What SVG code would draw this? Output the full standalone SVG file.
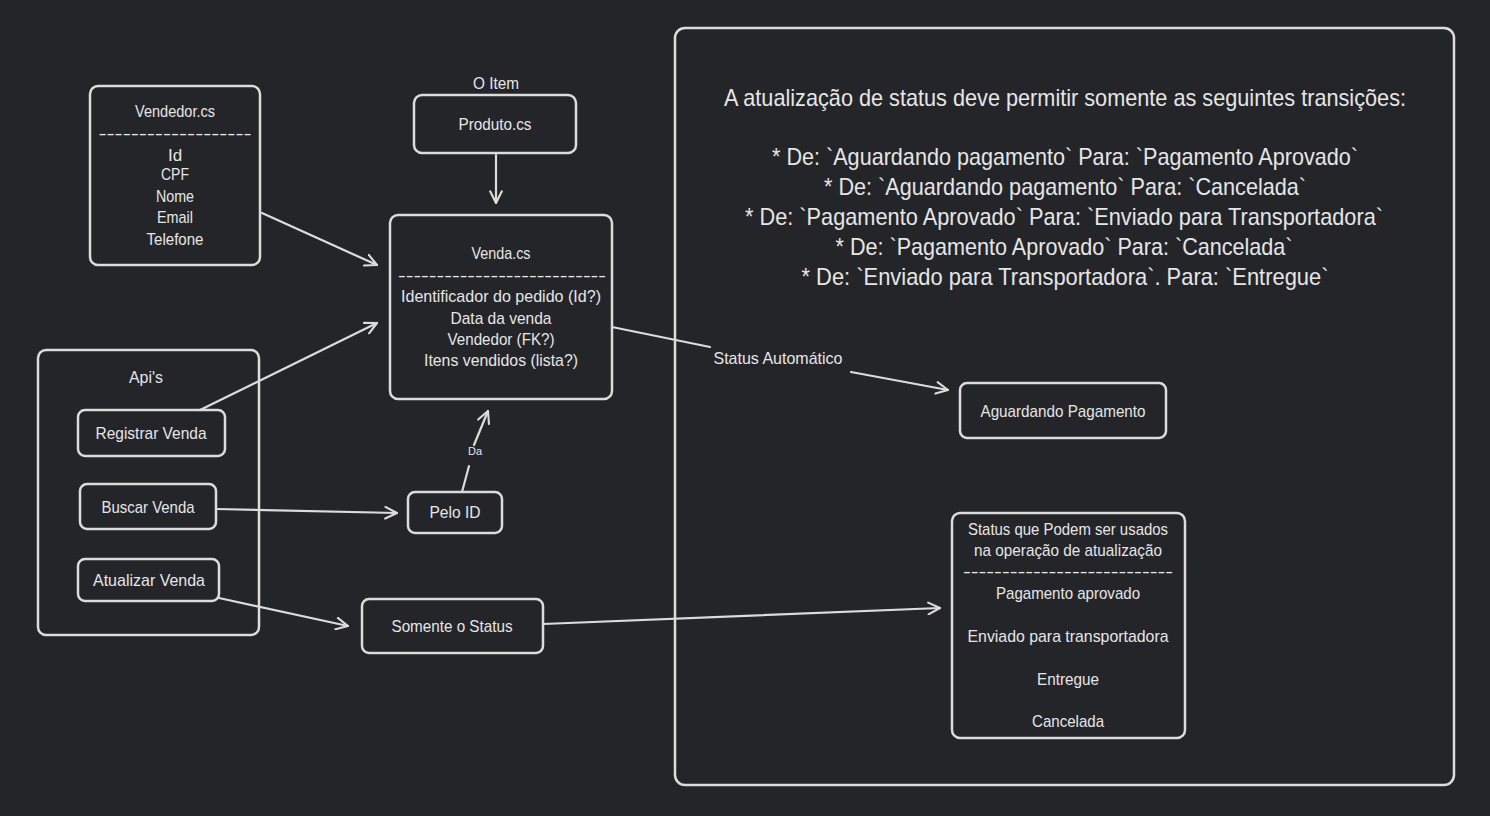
<svg xmlns="http://www.w3.org/2000/svg" width="1490" height="816" viewBox="0 0 1490 816">
<defs>
<style>
.bg{fill:#232529}
.box{fill:none;stroke:#dcdcdc;stroke-width:2.5;stroke-linejoin:round}
.ln{fill:none;stroke:#dcdcdc;stroke-width:2.2;stroke-linecap:round}
text{font-family:"Liberation Sans",Arial,sans-serif;fill:#e6e6e6;text-anchor:middle;font-size:17px}
.big{font-size:24px}
.sm{font-size:11px}
</style>
<marker id="ah" viewBox="0 0 12 12" refX="11" refY="6" markerWidth="14" markerHeight="14" markerUnits="userSpaceOnUse" orient="auto">
<path d="M1,1 L11,6 L1,11" fill="none" stroke="#dcdcdc" stroke-width="1.8" stroke-linecap="round" stroke-linejoin="round"/>
</marker>
</defs>
<rect class="bg" x="0" y="0" width="1490" height="816"/>

<g id="regras">
<rect class="box" x="675" y="28" width="779" height="757" rx="10"/>
<text class="big" x="1065" y="106" textLength="682" lengthAdjust="spacingAndGlyphs">A atualização de status deve permitir somente as seguintes transições:</text>
<text class="big" x="1065" y="165" textLength="586" lengthAdjust="spacingAndGlyphs">* De: `Aguardando pagamento` Para: `Pagamento Aprovado`</text>
<text class="big" x="1065" y="195" textLength="482" lengthAdjust="spacingAndGlyphs">* De: `Aguardando pagamento` Para: `Cancelada`</text>
<text class="big" x="1064" y="225" textLength="638" lengthAdjust="spacingAndGlyphs">* De: `Pagamento Aprovado` Para: `Enviado para Transportadora`</text>
<text class="big" x="1064" y="255" textLength="457" lengthAdjust="spacingAndGlyphs">* De: `Pagamento Aprovado` Para: `Cancelada`</text>
<text class="big" x="1065" y="285" textLength="527" lengthAdjust="spacingAndGlyphs">* De: `Enviado para Transportadora`. Para: `Entregue`</text>
</g>

<g id="vendedor">
<rect class="box" x="90" y="86" width="170" height="179" rx="8"/>
<text x="175" y="117" textLength="80" lengthAdjust="spacingAndGlyphs">Vendedor.cs</text>
<text x="175" y="139" textLength="153" lengthAdjust="spacingAndGlyphs">-------------------</text>
<text x="175" y="161">Id</text>
<text x="175" y="180" textLength="28" lengthAdjust="spacingAndGlyphs">CPF</text>
<text x="175" y="202" textLength="38" lengthAdjust="spacingAndGlyphs">Nome</text>
<text x="175" y="223" textLength="36" lengthAdjust="spacingAndGlyphs">Email</text>
<text x="175" y="245" textLength="57" lengthAdjust="spacingAndGlyphs">Telefone</text>
</g>

<g id="produto">
<text x="496" y="89" textLength="46" lengthAdjust="spacingAndGlyphs">O Item</text>
<rect class="box" x="414" y="95" width="162" height="58" rx="8"/>
<text x="495" y="130" textLength="73" lengthAdjust="spacingAndGlyphs">Produto.cs</text>
</g>

<g id="venda">
<rect class="box" x="390" y="215" width="222" height="184" rx="8"/>
<text x="501" y="259" textLength="59" lengthAdjust="spacingAndGlyphs">Venda.cs</text>
<text x="502" y="281" textLength="208" lengthAdjust="spacingAndGlyphs">---------------------------</text>
<text x="501" y="302" textLength="200" lengthAdjust="spacingAndGlyphs">Identificador do pedido (Id?)</text>
<text x="501" y="324" textLength="101" lengthAdjust="spacingAndGlyphs">Data da venda</text>
<text x="501" y="345" textLength="107" lengthAdjust="spacingAndGlyphs">Vendedor (FK?)</text>
<text x="501" y="366" textLength="154" lengthAdjust="spacingAndGlyphs">Itens vendidos (lista?)</text>
</g>

<g id="apis">
<rect class="box" x="38" y="350" width="221" height="285" rx="8"/>
<text x="146" y="383" textLength="34" lengthAdjust="spacingAndGlyphs">Api's</text>
</g>

<g id="registrar">
<rect class="box" x="78" y="410" width="147" height="46" rx="7"/>
<text x="151" y="439" textLength="111" lengthAdjust="spacingAndGlyphs">Registrar Venda</text>
</g>

<g id="buscar">
<rect class="box" x="80" y="484" width="136" height="45" rx="7"/>
<text x="148" y="513" textLength="93" lengthAdjust="spacingAndGlyphs">Buscar Venda</text>
</g>

<g id="atualizar">
<rect class="box" x="78" y="559" width="141" height="42" rx="7"/>
<text x="149" y="586" textLength="112" lengthAdjust="spacingAndGlyphs">Atualizar Venda</text>
</g>

<g id="peloid">
<rect class="box" x="408" y="492" width="94" height="41" rx="7"/>
<text x="455" y="518" textLength="51" lengthAdjust="spacingAndGlyphs">Pelo ID</text>
</g>

<g id="somente">
<rect class="box" x="362" y="599" width="181" height="54" rx="7"/>
<text x="452" y="632" textLength="121" lengthAdjust="spacingAndGlyphs">Somente o Status</text>
</g>

<g id="aguardando">
<rect class="box" x="960" y="383" width="206" height="55" rx="7"/>
<text x="1063" y="417" textLength="165" lengthAdjust="spacingAndGlyphs">Aguardando Pagamento</text>
</g>

<g id="status">
<rect class="box" x="952" y="513" width="233" height="225" rx="8"/>
<text x="1068" y="535" textLength="200" lengthAdjust="spacingAndGlyphs">Status que Podem ser usados</text>
<text x="1068" y="556" textLength="188" lengthAdjust="spacingAndGlyphs">na operação de atualização</text>
<text x="1068" y="577" textLength="210" lengthAdjust="spacingAndGlyphs">---------------------------</text>
<text x="1068" y="599" textLength="144" lengthAdjust="spacingAndGlyphs">Pagamento aprovado</text>
<text x="1068" y="642" textLength="201" lengthAdjust="spacingAndGlyphs">Enviado para transportadora</text>
<text x="1068" y="685" textLength="62" lengthAdjust="spacingAndGlyphs">Entregue</text>
<text x="1068" y="727" textLength="72" lengthAdjust="spacingAndGlyphs">Cancelada</text>
</g>

<g id="connectors">
<path class="ln" d="M496,155 L496,203" marker-end="url(#ah)"/>
<path class="ln" d="M262,213 L377,265" marker-end="url(#ah)"/>
<path class="ln" d="M200,410 L377,323" marker-end="url(#ah)"/>
<path class="ln" d="M216,509 L397,513" marker-end="url(#ah)"/>
<path class="ln" d="M462,492 L469,466"/>
<path class="ln" d="M474,445 L488,411" marker-end="url(#ah)"/>
<text class="sm" x="475" y="455">Da</text>
<path class="ln" d="M219,598 L348,626" marker-end="url(#ah)"/>
<path class="ln" d="M543,624 L940,608" marker-end="url(#ah)"/>
<path class="ln" d="M612,327 L710,347"/>
<path class="ln" d="M851,372 L948,390" marker-end="url(#ah)"/>
<text x="778" y="364" textLength="129" lengthAdjust="spacingAndGlyphs">Status Automático</text>
</g>
</svg>
